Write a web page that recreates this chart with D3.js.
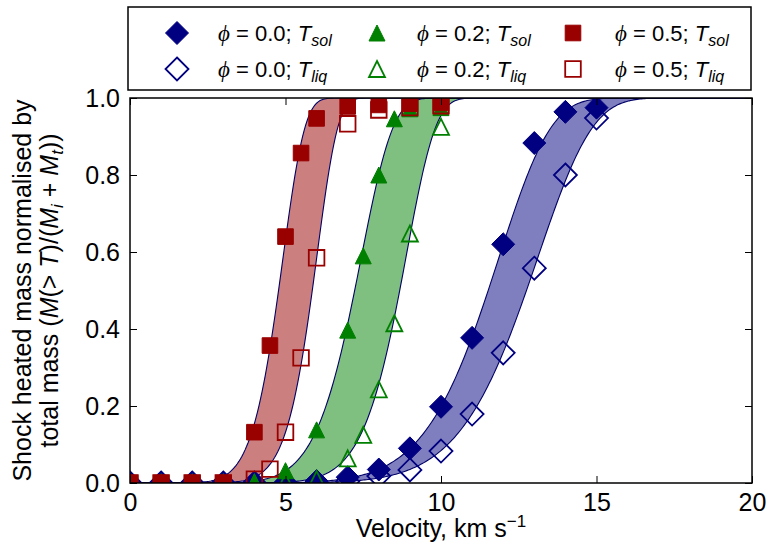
<!DOCTYPE html>
<html>
<head>
<meta charset="utf-8">
<script src="https://cdn.jsdelivr.net/npm/d3@7"></script>
<style>
  body { margin: 0; background: #fff; }
  svg { display: block; font-family: "Liberation Sans", "DejaVu Sans", sans-serif; }
</style>
</head>
<body>
<svg id="chart" width="768" height="553"></svg>
<script>
// velocities (km/s) at which the shock heated mass was measured
const velPhi00 = [0, 1, 2, 3, 4, 5, 6, 7, 8, 9, 10, 11, 12, 13, 14, 15];
const solPhi00 = [0, 0, 0, 0, 0, 0, 0.005, 0.015, 0.035, 0.09, 0.198, 0.377, 0.62, 0.883, 0.964, 0.975];
const liqPhi00 = [0, 0, 0, 0, 0, 0, 0, 0.004, 0.018, 0.034, 0.083, 0.179, 0.338, 0.558, 0.80, 0.948];

const velPhi02 = [0, 1, 2, 3, 4, 5, 6, 7, 7.5, 8, 8.5, 9, 10];
const solPhi02 = [0, 0, 0, 0, 0.003, 0.032, 0.138, 0.397, 0.59, 0.80, 0.946, 0.972, 0.975];
const liqPhi02 = [0, 0, 0, 0, 0, 0.003, 0.01, 0.064, 0.125, 0.243, 0.415, 0.648, 0.925];

const velPhi05 = [0, 1, 2, 3, 4, 4.5, 5, 5.5, 6, 7, 8, 9, 10];
const solPhi05 = [0, 0, 0, 0, 0.132, 0.357, 0.64, 0.857, 0.947, 0.978, 0.982, 0.985, 0.987];
const liqPhi05 = [0, 0, 0, 0, 0.01, 0.036, 0.132, 0.325, 0.585, 0.933, 0.969, 0.975, 0.98];

// fitted curves: 1 - exp(-(v/scale)^shape), one per series [phi0.0, phi0.2, phi0.5]
const fitScaleSol = [12.05, 7.55, 5.0];
const fitShapeSol = [8.1, 8.3, 8.0];
const fitScaleLiq = [13.31, 8.98, 6.08];
const fitShapeLiq = [8.5, 10.5, 10.0];

const phiLabels = ["0.0", "0.2", "0.5"];
const colors = ["#000080", "#008000", "#990000"];

const xTicks = [0, 5, 10, 15, 20];
const yTicks = [0, 0.2, 0.4, 0.6, 0.8, 1.0];

// matplotlib-like marker shapes
const diamond = {draw(ctx, r) { ctx.moveTo(0, -r); ctx.lineTo(r, 0); ctx.lineTo(0, r); ctx.lineTo(-r, 0); ctx.closePath(); }};
const triangle = {draw(ctx, r) { ctx.moveTo(0, -r); ctx.lineTo(r, r); ctx.lineTo(-r, r); ctx.closePath(); }};
const square = {draw(ctx, r) { ctx.rect(-r, -r, 2 * r, 2 * r); }};
const symbols = [diamond, triangle, square];
const symbolR = [11.5, 8, 7.8];

const margin = {top: 98, right: 16, bottom: 70, left: 130},
  width = 768 - margin.left - margin.right,
  height = 553 - margin.top - margin.bottom;

const svg = d3.select("#chart");
const g = svg.append("g")
  .attr("transform", "translate(" + margin.left + "," + margin.top + ")");

const x = d3.scaleLinear().domain([0, 20]).range([0, width]);
const y = d3.scaleLinear().domain([0, 1]).range([height, 0]);

g.append("clipPath").attr("id", "clip")
  .append("rect").attr("width", width).attr("height", height);

const plot = g.append("g").attr("clip-path", "url(#clip)");

const groups = [
  {vel: velPhi00, sol: solPhi00, liq: liqPhi00},
  {vel: velPhi02, sol: solPhi02, liq: liqPhi02},
  {vel: velPhi05, sol: solPhi05, liq: liqPhi05}
];

const fit = (v, s, k) => 1 - Math.exp(-Math.pow(v / s, k));
const vs = d3.range(0, 20.001, 0.05);

// bands between the solidus and liquidus fits
groups.forEach(function(grp, i) {
  const pts = vs.map(v => ({v: v, a: fit(v, fitScaleSol[i], fitShapeSol[i]), b: fit(v, fitScaleLiq[i], fitShapeLiq[i])}));
  plot.append("path")
    .attr("d", d3.area().x(d => x(d.v)).y0(d => y(d.b)).y1(d => y(d.a))(pts))
    .attr("fill", colors[i]).attr("fill-opacity", 0.5);
  ["a", "b"].forEach(function(key) {
    plot.append("path")
      .attr("d", d3.line().x(d => x(d.v)).y(d => y(d[key]))(pts))
      .attr("fill", "none").attr("stroke", "#000066").attr("stroke-width", 1.1);
  });
});

function marker(sel, i, filled) {
  sel.attr("d", d3.symbol().type(symbols[i]).size(symbolR[i]))
    .attr("fill", filled ? colors[i] : "none")
    .attr("stroke", colors[i])
    .attr("stroke-width", filled ? 1 : 1.8);
}

groups.forEach(function(grp, i) {
  [["sol", true], ["liq", false]].forEach(function(s) {
    plot.selectAll(null)
      .data(grp.vel.map((v, j) => ({v: v, m: grp[s[0]][j]})))
      .enter().append("path")
      .attr("transform", d => "translate(" + x(d.v) + "," + y(d.m) + ")")
      .call(marker, i, s[1]);
  });
});

// frame and ticks on all four sides, pointing inwards
g.append("rect").attr("width", width).attr("height", height)
  .attr("fill", "none").attr("stroke", "#000").attr("stroke-width", 1.5);

const tickLen = 7;
g.append("g").attr("transform", "translate(0," + height + ")")
  .call(d3.axisBottom(x).tickValues(xTicks).tickSize(-tickLen).tickPadding(10).tickFormat(d3.format("d")));
g.append("g")
  .call(d3.axisTop(x).tickValues(xTicks).tickSize(-tickLen).tickFormat(""));
g.append("g")
  .call(d3.axisLeft(y).tickValues(yTicks).tickSize(-tickLen).tickPadding(10).tickFormat(d3.format(".1f")));
g.append("g").attr("transform", "translate(" + width + ",0)")
  .call(d3.axisRight(y).tickValues(yTicks).tickSize(-tickLen).tickFormat(""));

g.selectAll(".domain").remove();
g.selectAll(".tick line").attr("stroke", "#000").attr("stroke-width", 1);
g.selectAll(".tick text").attr("fill", "#000").style("font-size", "25px")
  .style("font-family", "'Liberation Sans', sans-serif");

// axis labels
svg.append("text")
  .attr("x", margin.left + width / 2).attr("y", 537)
  .attr("text-anchor", "middle").style("font-size", "25px")
  .html('Velocity, km s<tspan dy="-10" font-size="17px">\u22121</tspan>');

const ylab = svg.append("text")
  .attr("transform", "translate(0," + (margin.top + height / 2) + ") rotate(-90)")
  .attr("text-anchor", "middle").style("font-size", "25px");
ylab.append("tspan").attr("x", 0).attr("y", 31).text("Shock heated mass normalised by");
ylab.append("tspan").attr("x", 0).attr("y", 58)
  .html('total mass (<tspan font-style="italic">M</tspan>(&gt; <tspan font-style="italic">T</tspan>)/(<tspan font-style="italic">M</tspan><tspan font-style="italic" font-size="17px" dy="5">i</tspan><tspan dy="-5"> + </tspan><tspan font-style="italic">M</tspan><tspan font-style="italic" font-size="17px" dy="5">t</tspan><tspan dy="-5">))</tspan>');

// legend
const legend = svg.append("g");
legend.append("rect").attr("x", 128).attr("y", 7).attr("width", 623).attr("height", 83)
  .attr("fill", "#fff").attr("stroke", "#000").attr("stroke-width", 1.5);

const legX = [177, 377, 573];
const legTextX = [218, 417, 615];
const legY = [33, 69];
phiLabels.forEach(function(lab, i) {
  ["sol", "liq"].forEach(function(kind, r) {
    legend.append("path")
      .attr("transform", "translate(" + legX[i] + "," + legY[r] + ")")
      .call(marker, i, r === 0);
    legend.append("text")
      .attr("x", legTextX[i]).attr("y", legY[r] + 8)
      .style("font-size", "22px")
      .html('<tspan font-family="Liberation Serif, DejaVu Serif" font-style="italic" font-size="23px">\u03D5</tspan> = ' + lab +
        '; <tspan font-style="italic">T</tspan><tspan font-style="italic" font-size="16px" dy="5">' + kind + '</tspan>');
  });
});
</script>
</body>
</html>
